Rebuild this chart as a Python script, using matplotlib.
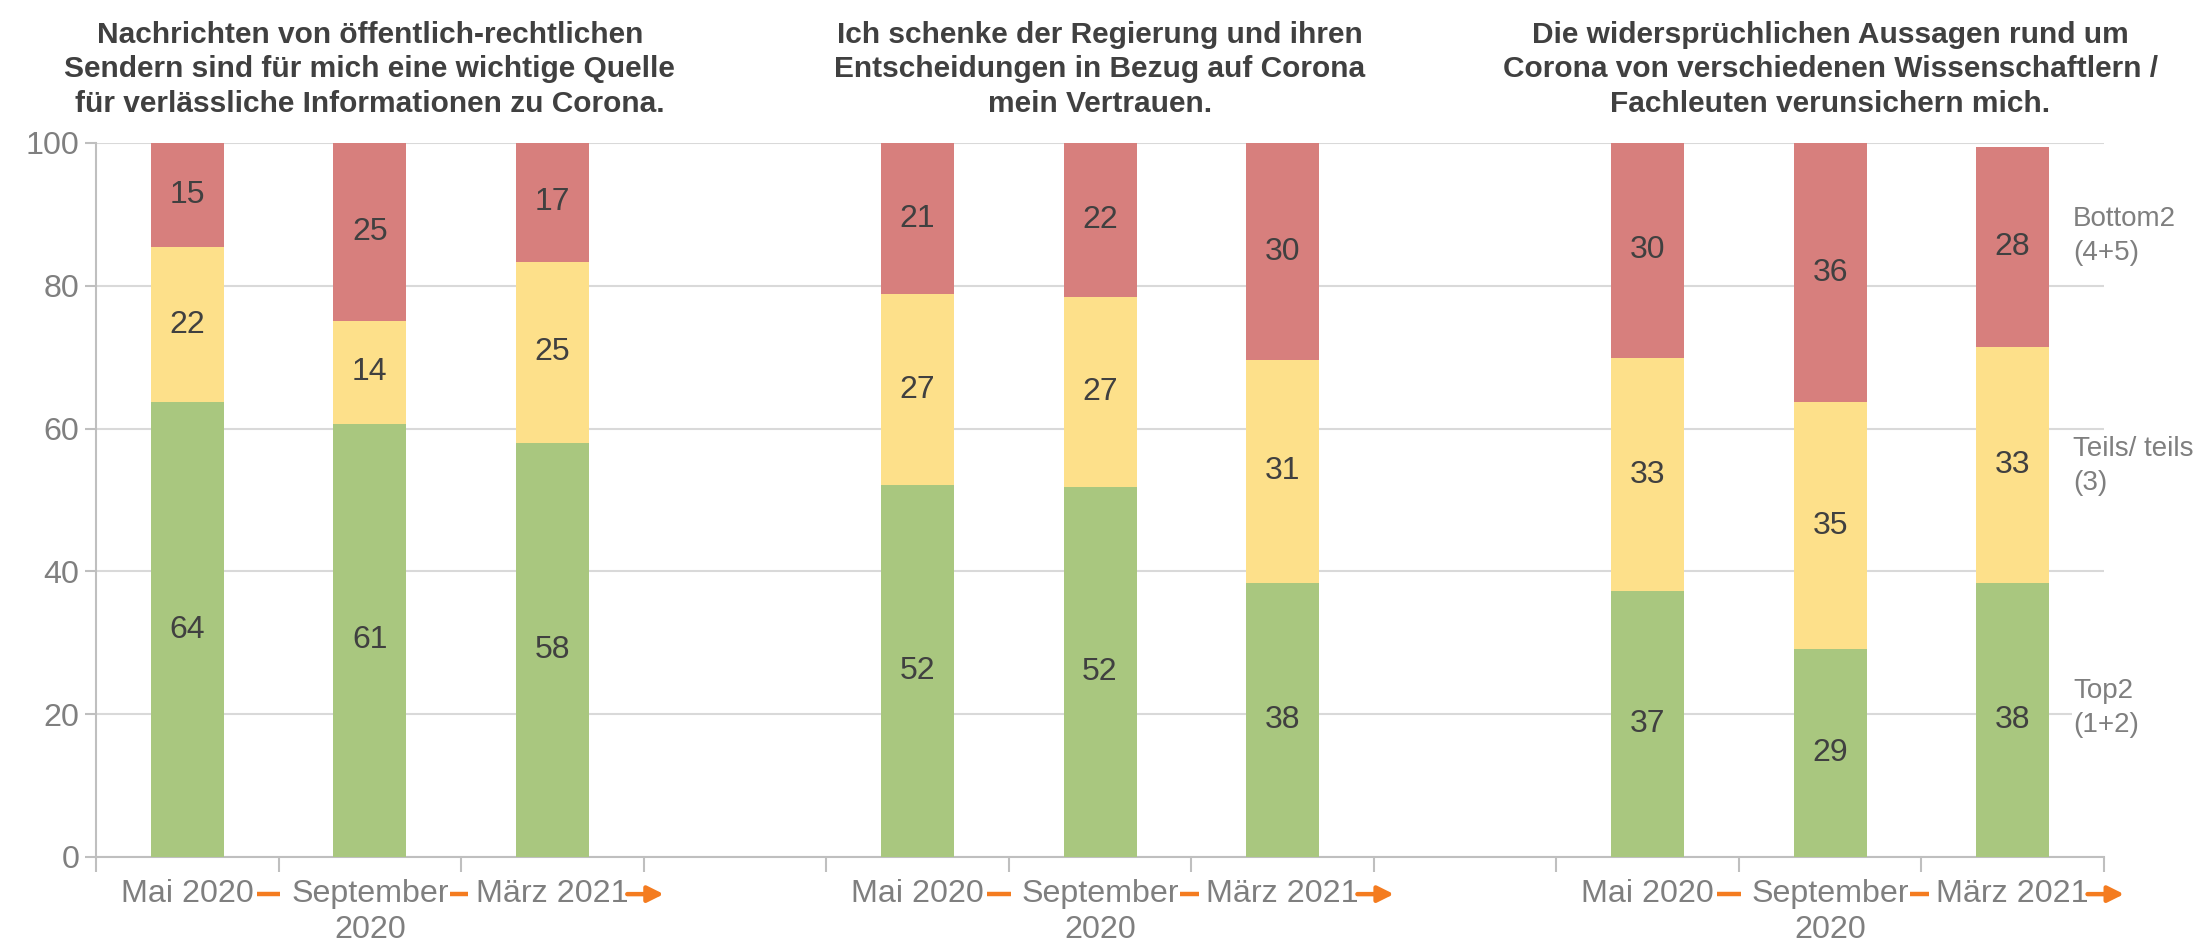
import numpy as np
import matplotlib.pyplot as plt
from matplotlib import font_manager as fm

# --- data ---
titles = [
    "Nachrichten von öffentlich-rechtlichen\nSendern sind für mich eine wichtige Quelle\nfür verlässliche Informationen zu Corona.",
    "Ich schenke der Regierung und ihren\nEntscheidungen in Bezug auf Corona\nmein Vertrauen.",
    "Die widersprüchlichen Aussagen rund um\nCorona von verschiedenen Wissenschaftlern /\nFachleuten verunsichern mich.",
]
waves = ["Mai 2020", "September\n2020", "März 2021"]
series_names = ["Top2\n(1+2)", "Teils/ teils\n(3)", "Bottom2\n(4+5)"]

# per statement, per wave
top2 = [[63.7, 60.7, 58.0], [52.1, 51.8, 38.4], [37.2, 29.1, 38.4]]
teils = [[21.7, 14.4, 25.4], [26.7, 26.6, 31.2], [32.7, 34.6, 33.0]]
bottom2 = [[14.6, 24.9, 16.6], [21.2, 21.6, 30.4], [30.1, 36.3, 28.0]]

colors = ["#A9C77F", "#FDE08A", "#D77F7D"]
orange = "#F47C20"
grey_txt = "#7F7F7F"
dark_txt = "#404040"

names = {f.name for f in fm.fontManager.ttflist}
if "Liberation Sans Narrow" in names:
    narrow, nscale = "Liberation Sans Narrow", 1.0
else:
    narrow, nscale = "Liberation Sans", 0.86
plt.rcParams['font.family'] = ['Liberation Sans', 'DejaVu Sans']

fig = plt.figure(figsize=(22.04, 9.52), dpi=100)
ax = fig.add_axes([0.0436, 0.0998, 0.9110, 0.7500])

# bar positions: 3 waves per group, one empty slot between groups
xpos = []
for g in range(3):
    xpos.append([g * 4 + i for i in range(3)])

width = 0.4
for g in range(3):
    bottom = np.zeros(3)
    for vals, c in zip([top2[g], teils[g], bottom2[g]], colors):
        v = np.array(vals)
        ax.bar(xpos[g], v, width, bottom=bottom, color=c, zorder=3)
        for x, b, h in zip(xpos[g], bottom, v):
            ax.text(x, b + h / 2, f"{h:.0f}", ha='center', va='center',
                    fontsize=23, color=dark_txt, zorder=4)
        bottom = bottom + v
    ax.text(g * 4 + 1, 1.035, titles[g], transform=ax.get_xaxis_transform(),
            ha='center', va='bottom', fontsize=25 * nscale, fontweight='bold',
            family=narrow, color=dark_txt, linespacing=1.3)

ax.set_xlim(-0.5, 10.5)
ax.set_ylim(0, 100)
ax.set_yticks([0, 20, 40, 60, 80, 100])
ax.yaxis.grid(True, color="#D9D9D9", linewidth=1.5, zorder=0)
ax.set_axisbelow(True)

for s in ['top', 'right']:
    ax.spines[s].set_visible(False)
for s in ['left', 'bottom']:
    ax.spines[s].set_color("#BFBFBF")
    ax.spines[s].set_linewidth(1.5)

ax.tick_params(axis='y', length=8, width=1.5, color="#BFBFBF", labelsize=27 * nscale,
               labelcolor=grey_txt, pad=4)
for lab in ax.get_yticklabels():
    lab.set_family(narrow)

allpos = [x for grp in xpos for x in grp]
ax.set_xticks(allpos)
ax.set_xticklabels(waves * 3, fontsize=27 * nscale, color=grey_txt, family=narrow,
                   linespacing=1.25)
ax.tick_params(axis='x', which='major', length=0, pad=16)
ax.set_xticks(np.arange(-0.5, 11, 1), minor=True)
ax.tick_params(axis='x', which='minor', length=11, width=1.5, color="#BFBFBF")

# orange timeline arrows between wave labels
trans = ax.get_xaxis_transform()
for g in range(3):
    o = g * 4
    ax.plot([o + 0.38, o + 0.51], [-0.052, -0.052], transform=trans, color=orange,
            lw=3.2, clip_on=False, solid_capstyle='butt')
    ax.plot([o + 1.44, o + 1.54], [-0.052, -0.052], transform=trans, color=orange,
            lw=3.2, clip_on=False, solid_capstyle='butt')
    ax.annotate("", xy=(o + 2.61, -0.052), xytext=(o + 2.41, -0.052), xycoords=trans,
                textcoords=trans,
                arrowprops=dict(arrowstyle='-|>', color=orange, lw=3.2,
                                mutation_scale=24, shrinkA=0, shrinkB=0))

# series labels on the right
label_y = [20.9, 54.7, 87.0]
for name, yv in zip(series_names, label_y):
    ax.text(10.33, yv, name, ha='left', va='center', fontsize=20, color=grey_txt,
            linespacing=1.4, zorder=5, clip_on=False,
            bbox=dict(facecolor='white', edgecolor='none', pad=1))

fig.savefig("out.png", dpi=100)
